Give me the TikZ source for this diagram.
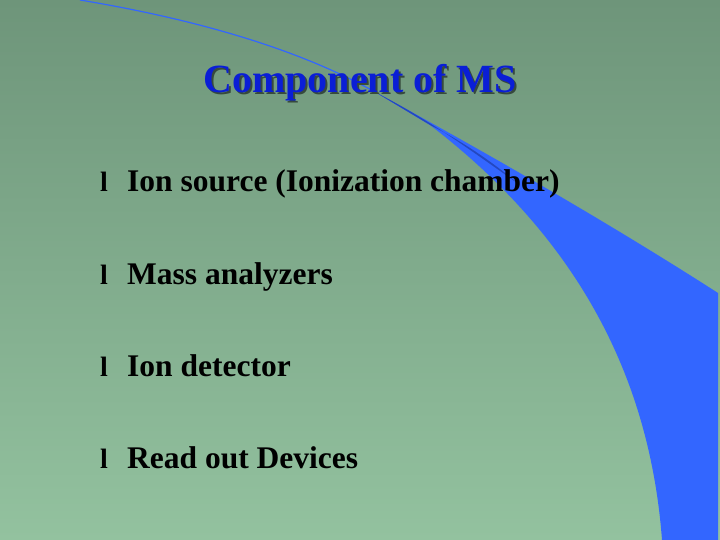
\documentclass[tikz,border=0pt]{standalone}
\usepackage{fontspec}
\setmainfont{Liberation Serif}
\definecolor{bgtop}{HTML}{6E957A}
\definecolor{bgbot}{HTML}{93C29F}
\definecolor{swoosh}{HTML}{3366FF}
\definecolor{swooshdark}{HTML}{2448C0}
\definecolor{titleblue}{HTML}{0A1ED6}
\tikzset{item/.style={
  anchor=base west,
  font=\fontsize{31.5}{34}\selectfont\bfseries,
  inner sep=0}}
\tikzset{dot/.style={
  anchor=base west,
  font=\fontsize{28}{34}\selectfont\bfseries,
  inner sep=0}}

\begin{document}
\begin{tikzpicture}[x=1pt, y=-1pt]
  \shade[top color=bgtop, bottom color=bgbot] (0,0) rectangle (720,540);
  \useasboundingbox (0,0) rectangle (720,540);

  % swoosh
  \fill[swoosh] (375,92) .. controls (500,160) and (620,230) .. (718,293)
    -- (718,540) -- (662,540)
    .. controls (650,380) and (580,240) .. (430,125) -- cycle;
  \fill[swooshdark] (375,92) .. controls (430,120) and (470,150) .. (520,185)
    .. controls (490,160) and (460,140) .. (430,125) -- cycle;
  \draw[swoosh, line width=1.2pt] (80,0) .. controls (200,20) and (300,50) .. (375,92);

  % title
  \node[font=\fontsize{40}{44}\selectfont\bfseries, text=black!50!bgtop] (shadow) at (362,85) {Component of MS};
  \node[font=\fontsize{40}{44}\selectfont\bfseries, text=titleblue] (title) at (360,83) {Component of MS};

  % bullets
  \foreach \y/\txt [count=\i] in {192/Ion source (Ionization chamber), 284/Mass analyzers, 376/Ion detector, 468/Read out Devices} {
    \node[dot] (b\i) at (100,\y) {l};
    \node[item] (t\i) at (127,\y) {\txt};
  }
\end{tikzpicture}
\end{document}
